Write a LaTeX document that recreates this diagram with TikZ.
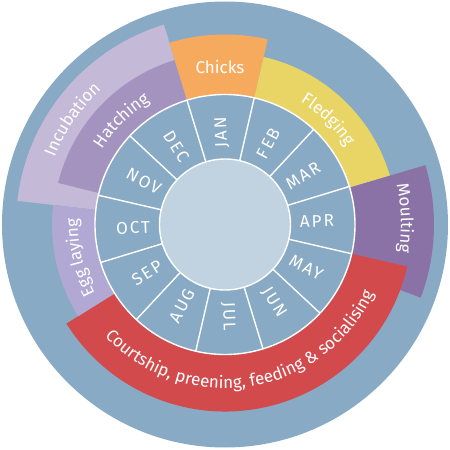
\documentclass[tikz,border=0pt]{standalone}
\usepackage{fontspec}
\setmainfont{Fira Sans}
\newfontfamily\monthfamily[LetterSpace=12]{Fira Sans}
\usetikzlibrary{decorations.text}
\definecolor{ringblue}{RGB}{137,170,196}
\definecolor{coreblue}{RGB}{193,211,224}
\definecolor{chickc}{RGB}{246,170,94}
\definecolor{fledgec}{RGB}{232,213,102}
\definecolor{moultc}{RGB}{139,114,166}
\definecolor{courtc}{RGB}{210,74,75}
\definecolor{eggc}{RGB}{178,168,212}
\definecolor{incubc}{RGB}{196,185,214}
\definecolor{hatchc}{RGB}{164,147,191}
\newcommand{\actfont}{\fontsize{17}{20}\selectfont}
\newcommand{\bandsector}[5]{\fill[#5] (#1:#3pt) arc[start angle=#1,end angle=#2,radius=#3pt] -- (#2:#4pt) arc[start angle=#2,end angle=#1,radius=#4pt] -- cycle;}
\newcommand{\arclabel}[4]{\begin{scope}\actfont\path[decorate,decoration={text along path,text={#4},text align=center,text color=white}] (#1:#3pt) arc[start angle=#1,end angle=#2,radius=#3pt];\end{scope}}
\tikzset{
  monthlbl/.style={text=white,font=\monthfamily\fontsize{17}{20}\selectfont,inner sep=0pt},
  actlbl/.style={text=white,font=\actfont,inner sep=0pt},
  divider/.style={white,line width=1.4pt}
}
\begin{document}
\begin{tikzpicture}[x=1pt,y=1pt]
\useasboundingbox (-225,-225.5) rectangle (225,224.5);
% outer disc
\fill[ringblue] (0,0) circle[radius=223pt];
% activity bands
\bandsector{107}{173.5}{129}{209}{incubc}
\bandsector{107}{166}{129}{172}{hatchc}
\bandsector{77}{107}{129}{190}{chickc}
\bandsector{16.5}{77}{129}{172}{fledgec}
\bandsector{-20.5}{16.5}{129}{209}{moultc}
\bandsector{212}{347}{129}{187}{courtc}
\bandsector{173.5}{212}{129}{173}{eggc}
% month ring
\fill[ringblue] (0,0) circle[radius=130pt];
\foreach \a in {17,47,...,347}{
  \draw[divider] (\a:65pt) -- (\a:130pt);
}
\draw[divider] (0,0) circle[radius=130pt];
\fill[coreblue,draw=white,line width=1.4pt] (0,0) circle[radius=65.5pt];
% month labels
\node[monthlbl,rotate=92]  (jan) at (92:92pt)  {JAN};
\node[monthlbl,rotate=62]  (feb) at (62:92pt)  {FEB};
\node[monthlbl,rotate=32]  (mar) at (32:92pt)  {MAR};
\node[monthlbl,rotate=2]   (apr) at (2:92pt)   {APR};
\node[monthlbl,rotate=-28] (may) at (-28:92pt) {MAY};
\node[monthlbl,rotate=-58] (jun) at (-58:92pt) {JUN};
\node[monthlbl,rotate=-88] (jul) at (-88:92pt) {JUL};
\node[monthlbl,rotate=62]  (aug) at (242:92pt) {AUG};
\node[monthlbl,rotate=32]  (sep) at (212:92pt) {SEP};
\node[monthlbl,rotate=2]   (oct) at (182:92pt) {OCT};
\node[monthlbl,rotate=-28] (nov) at (152:92pt) {NOV};
\node[monthlbl,rotate=-58] (dec) at (122:92pt) {DEC};
% activity labels
\node[actlbl] (chicks) at (-5,158) {Chicks};
\arclabel{180.5}{110.5}{183}{Incubation}
\arclabel{163}{107}{144}{Hatching}
\arclabel{73.5}{17.5}{144}{Fledging}
\arclabel{20}{-16}{176}{Moulting}
\arclabel{211.75}{173.75}{147}{Egg laying}
\arclabel{209}{349}{164}{Courtship, preening, feeding {\&} socialising}
\end{tikzpicture}
\end{document}
